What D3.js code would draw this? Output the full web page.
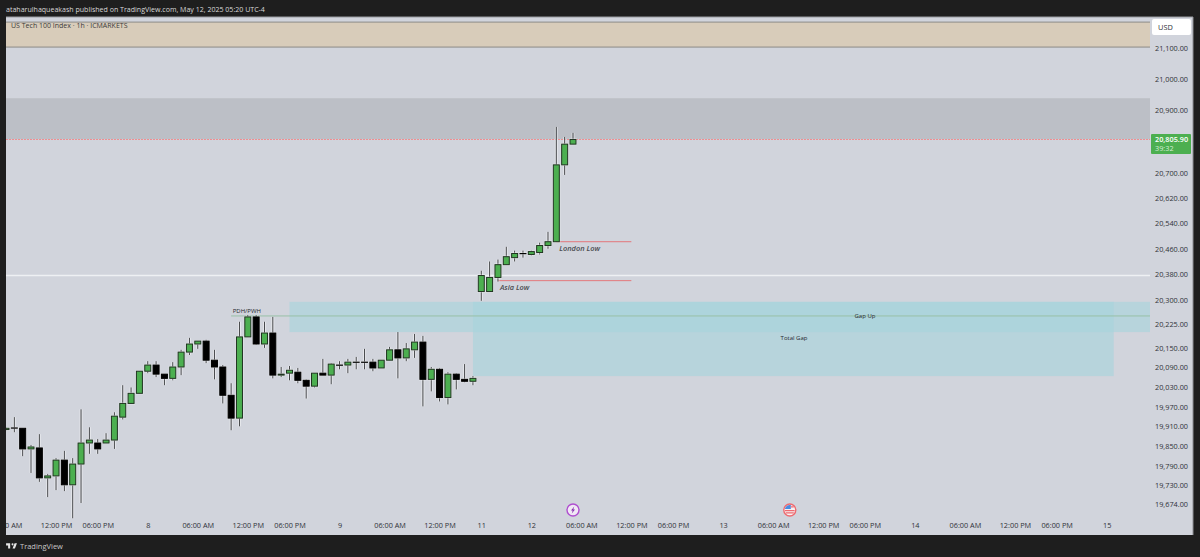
<!DOCTYPE html>
<html>
<head>
<meta charset="utf-8">
<title>US Tech 100 Index</title>
<script src="https://d3js.org/d3.v7.min.js"></script>
<style>
    html, body { margin: 0; padding: 0; background: #1e1e1e; overflow: hidden; }
    svg { display: block; font-family: 'Open Sans', sans-serif; }
    .axis path, .axis line { display: none; }
    .axis text { font-family: 'Open Sans', sans-serif; font-size: 7.3px; fill: #2f3238; }
    .note { font-size: 6px; fill: #26282c; text-anchor: middle; }
    .low { font-size: 7.4px; font-style: italic; font-weight: 600; fill: #4a4c50; }
</style>
</head>
<body>
<script>
//DATA
var opens = [19900,19905,19904,19841,19844,19753,19759,19807,19732,19795,19859,19859,19859,19868,19938,19980,20011,20079,20098,20070,20057,20092,20138,20163,20172,20113,20092,20005,19935,20185,20247,20163,20197,20067,20073,20076,20051,20033,20073,20067,20098,20098,20107,20107,20107,20089,20113,20145,20120,20145,20169,20054,20085,19998,20070,20054,20048,20326,20326,20370,20410,20432,20445,20442,20448,20470,20482,20725,20791];
var highs = [19906,19938,19904,19853,19886,19765,19813,19835,19813,19962,19907,19871,19889,19953,20036,20029,20079,20110,20110,20070,20107,20145,20182,20172,20176,20145,20098,20042,20232,20253,20253,20232,20247,20092,20095,20089,20054,20073,20117,20104,20110,20117,20123,20148,20117,20113,20154,20200,20166,20194,20188,20092,20089,20076,20073,20101,20064,20391,20420,20426,20466,20454,20454,20454,20479,20513,20846,20814,20827];
var lows = [19898,19892,19819,19768,19741,19695,19716,19713,19631,19677,19826,19826,19859,19841,19931,19980,20011,20073,20061,20036,20051,20067,20129,20148,20104,20054,19980,19898,19910,20185,20160,20151,20057,20061,20051,20042,19995,20029,20067,20039,20085,20073,20085,20085,20079,20089,20113,20057,20110,20120,19971,20017,19986,19977,20023,20045,20036,20297,20326,20357,20410,20420,20432,20439,20442,20460,20482,20693,20791];
var closes = [19904,19905,19841,19847,19753,19759,19807,19732,19795,19859,19868,19841,19868,19941,19980,20011,20079,20098,20070,20057,20092,20138,20163,20172,20113,20092,20005,19935,20185,20247,20163,20197,20067,20070,20082,20051,20033,20073,20067,20101,20098,20107,20107,20107,20089,20113,20145,20120,20148,20169,20054,20085,19998,20070,20054,20048,20057,20376,20370,20410,20435,20445,20445,20451,20470,20482,20725,20791,20805.9];

var priceTicks = [21100,21000,20900,20700,20620,20540,20460,20380,20300,20225,20150,20090,20030,19970,19910,19850,19790,19730,19674];
var timeTickBars = [0,6,11,17,23,29,34,40,46,52,57,63,69,75,80,86,92,98,103,109,115,121,126,132];
var timeTickLabels = ['06:00 AM','12:00 PM','06:00 PM','8','06:00 AM','12:00 PM','06:00 PM','9','06:00 AM','12:00 PM','11','12','06:00 AM','12:00 PM','06:00 PM','13','06:00 AM','12:00 PM','06:00 PM','14','06:00 AM','12:00 PM','06:00 PM','15'];

// price zones: bar from, bar to, top price, bottom price
var zoneBars = [[-1,138],[-1,138],[34,138],[56,132.85]];
var zonePrices = [[21184,21103],[20938,20807],[20294,20200],[20294,20064]];
var zoneColors = ['#d8ccba','#bcbfc6','#a6d3dc','#a6d3dc'];
var zoneOpacity = [1,1,.62,.62];

var lastPrice = 20805.9;
var countdown = '39:32';
var asiaLow = 20360, londonLow = 20482, pdh = 20250, whiteLevel = 20376;

//SCALES
var width = 1200, height = 557;
var plot = {left: 6, right: 1150, top: 17, bottom: 535};

var x = d3.scaleLinear().domain([0, 68]).range([6, 573]);
var y = d3.scaleLog().domain([21100, 19674]).range([48, 504]);

//WINDOW
var svg = d3.select('body').append('svg')
    .attr('width', width)
    .attr('height', height);

svg.append('defs').append('clipPath').attr('id', 'plotclip')
    .append('rect')
    .attr('x', plot.left).attr('y', plot.top)
    .attr('width', plot.right - plot.left).attr('height', plot.bottom - plot.top);

svg.append('rect').attr('width', width).attr('height', height).attr('fill', '#1e1e1e');
svg.append('rect')
    .attr('x', plot.left).attr('y', plot.top)
    .attr('width', 1193 - plot.left).attr('height', plot.bottom - plot.top)
    .attr('fill', '#d1d4dc');

var chart = svg.append('g').attr('clip-path', 'url(#plotclip)');

//ZONES
chart.selectAll('.zone')
    .data(zonePrices).enter()
    .append('rect')
    .attr('class', 'zone')
    .attr('x', (d,i) => x(zoneBars[i][0]))
    .attr('width', (d,i) => x(zoneBars[i][1]) - x(zoneBars[i][0]))
    .attr('y', d => y(d[0]))
    .attr('height', d => y(d[1]) - y(d[0]))
    .attr('fill', (d,i) => zoneColors[i])
    .attr('opacity', (d,i) => zoneOpacity[i]);

// beige zone edges
zonePrices[0].forEach(p => {
    chart.append('line')
        .attr('x1', plot.left).attr('x2', plot.right)
        .attr('y1', y(p)).attr('y2', y(p))
        .attr('stroke', '#8d8b87').attr('stroke-width', 1);
});

//LEVELS
chart.append('line')
    .attr('x1', plot.left).attr('x2', plot.right)
    .attr('y1', Math.round(y(lastPrice)) + .5).attr('y2', Math.round(y(lastPrice)) + .5)
    .attr('stroke', '#ee8f92').attr('stroke-width', 1).attr('stroke-dasharray', '2 1');

chart.append('line')
    .attr('x1', plot.left).attr('x2', plot.right)
    .attr('y1', y(whiteLevel)).attr('y2', y(whiteLevel))
    .attr('stroke', '#eef0f3').attr('stroke-width', 1.6);

chart.append('line')
    .attr('x1', x(27)).attr('x2', plot.right)
    .attr('y1', y(pdh)).attr('y2', y(pdh))
    .attr('stroke', '#98c0a6').attr('stroke-width', 1);

chart.append('line')
    .attr('x1', x(59)).attr('x2', x(75))
    .attr('y1', y(asiaLow)).attr('y2', y(asiaLow))
    .attr('stroke', '#e3787c').attr('stroke-width', 1);

chart.append('line')
    .attr('x1', x(66)).attr('x2', x(75))
    .attr('y1', y(londonLow)).attr('y2', y(londonLow))
    .attr('stroke', '#e3787c').attr('stroke-width', 1);

//CANDLES
var candle = chart.selectAll('.candle')
    .data(opens).enter()
    .append('g')
    .attr('class', 'candle');

candle.append('line')
    .attr('x1', (d,i) => x(i)).attr('x2', (d,i) => x(i))
    .attr('y1', (d,i) => y(highs[i])).attr('y2', (d,i) => y(lows[i]))
    .attr('stroke', '#fff').attr('stroke-opacity', .45).attr('stroke-width', 3);

candle.append('line')
    .attr('x1', (d,i) => x(i)).attr('x2', (d,i) => x(i))
    .attr('y1', (d,i) => y(highs[i])).attr('y2', (d,i) => y(lows[i]))
    .attr('stroke', '#45474a').attr('stroke-width', 1);

candle.append('rect')
    .attr('x', (d,i) => x(i) - 4)
    .attr('width', 8)
    .attr('y', (d,i) => y(Math.max(d, closes[i])) - 1)
    .attr('height', (d,i) => Math.abs(y(d) - y(closes[i])) + 2)
    .attr('fill', '#fff').attr('opacity', .5);

candle.append('rect')
    .attr('x', (d,i) => x(i) - 3)
    .attr('width', 6)
    .attr('y', (d,i) => y(Math.max(d, closes[i])))
    .attr('height', (d,i) => Math.max(.2, Math.abs(y(d) - y(closes[i]))))
    .attr('fill', (d,i) => closes[i] > d ? '#4caf50' : '#000')
    .attr('stroke', (d,i) => closes[i] > d ? '#1f3320' : '#000')
    .attr('stroke-width', 1);

//NOTES
chart.append('text').attr('class', 'note').attr('x', x(29) - 1).attr('y', y(pdh) - 3).text('PDH/PWH');
chart.append('text').attr('class', 'note').attr('x', 865).attr('y', y(pdh) + 2).text('Gap Up');
chart.append('text').attr('class', 'note').attr('x', 794).attr('y', 340).text('Total Gap');
chart.append('text').attr('class', 'low').attr('x', x(59) + 2).attr('y', y(asiaLow) + 9).text('Asia Low');
chart.append('text').attr('class', 'low').attr('x', x(66) + 3).attr('y', y(londonLow) + 9).text('London Low');

//AXES
svg.append('g')
    .attr('class', 'axis')
    .attr('transform', 'translate(1152,0)')
    .call(d3.axisRight(y).tickValues(priceTicks).tickSize(0).tickPadding(3).tickFormat(d3.format(',.2f')));

chart.append('g')
    .attr('class', 'axis')
    .attr('transform', 'translate(0,520)')
    .call(d3.axisBottom(x).tickValues(timeTickBars).tickSize(0).tickPadding(3)
        .tickFormat(d => timeTickLabels[timeTickBars.indexOf(d)]));

//PRICE TAGS
svg.append('rect').attr('x', 1152).attr('y', 19).attr('width', 39).attr('height', 16).attr('rx', 2).attr('fill', '#fff');
svg.append('text').attr('x', 1158).attr('y', 30).attr('font-size', 7.4).attr('fill', '#2f3238').text('USD');

svg.append('rect').attr('x', 1151).attr('y', y(lastPrice) - 5.5).attr('width', 40).attr('height', 20).attr('rx', 1).attr('fill', '#4caf50');
svg.append('text').attr('x', 1155).attr('y', y(lastPrice) + 2.5).attr('font-size', 7.3).attr('font-weight', 600).attr('fill', '#fff').text(d3.format(',.2f')(lastPrice));
svg.append('text').attr('x', 1155).attr('y', y(lastPrice) + 11.5).attr('font-size', 7.3).attr('fill', '#d5edd6').text(countdown);

//EVENT ICONS
var bolt = svg.append('g').attr('transform', 'translate(' + x(68) + ',510)');
bolt.append('circle').attr('r', 6).attr('fill', '#f1e9f5').attr('stroke', '#b04fd0').attr('stroke-width', 1.4);
bolt.append('path').attr('d', 'M1.2 -3.6 L-2 0.6 L-0.3 0.6 L-1.2 3.6 L2 -0.6 L0.3 -0.6 Z').attr('fill', '#8a2fb0');

var flag = svg.append('g').attr('transform', 'translate(' + x(94) + ',510)');
flag.append('circle').attr('r', 6).attr('fill', '#f7f1f2').attr('stroke', '#ee6a70').attr('stroke-width', 1.4);
flag.append('path').attr('d', 'M-5 -1 A5 5 0 0 1 1 -4.9 L1 -1 Z').attr('fill', '#4a8be0');
flag.append('path').attr('d', 'M1 -3.2 H4 M-4.8 0.6 H4.8 M-4 2.8 H4').attr('stroke', '#ee6a70').attr('stroke-width', 1.2);

//FRAME TEXT
svg.append('line').attr('x1', 1193).attr('x2', 1193).attr('y1', plot.top).attr('y2', plot.bottom).attr('stroke', '#8d8f94');
svg.append('line').attr('x1', plot.left).attr('x2', 1193).attr('y1', plot.top).attr('y2', plot.top).attr('stroke', '#9a9ca1');

svg.append('text').attr('x', 6).attr('y', 11.5).attr('font-size', 7.05).attr('fill', '#d8d8d8')
    .text('ataharulhaqueakash published on TradingView.com, May 12, 2025 05:20 UTC-4');
svg.append('text').attr('x', 11).attr('y', 28).attr('font-size', 7).attr('fill', '#3a3a3a')
    .text('US Tech 100 Index · 1h · ICMARKETS');

svg.append('path')
    .attr('transform', 'translate(5.4,541.3) scale(.34)')
    .attr('d', 'M14 6H2v6h6v9h6V6zm14 15h-7l6-15h7l-6 15zm-7-9a3 3 0 1 0 0-6 3 3 0 0 0 0 6z')
    .attr('fill', '#e6e6e6');
svg.append('text').attr('x', 20).attr('y', 549).attr('font-size', 7.5).attr('fill', '#c9c9c9').text('TradingView');
</script>
</body>
</html>
